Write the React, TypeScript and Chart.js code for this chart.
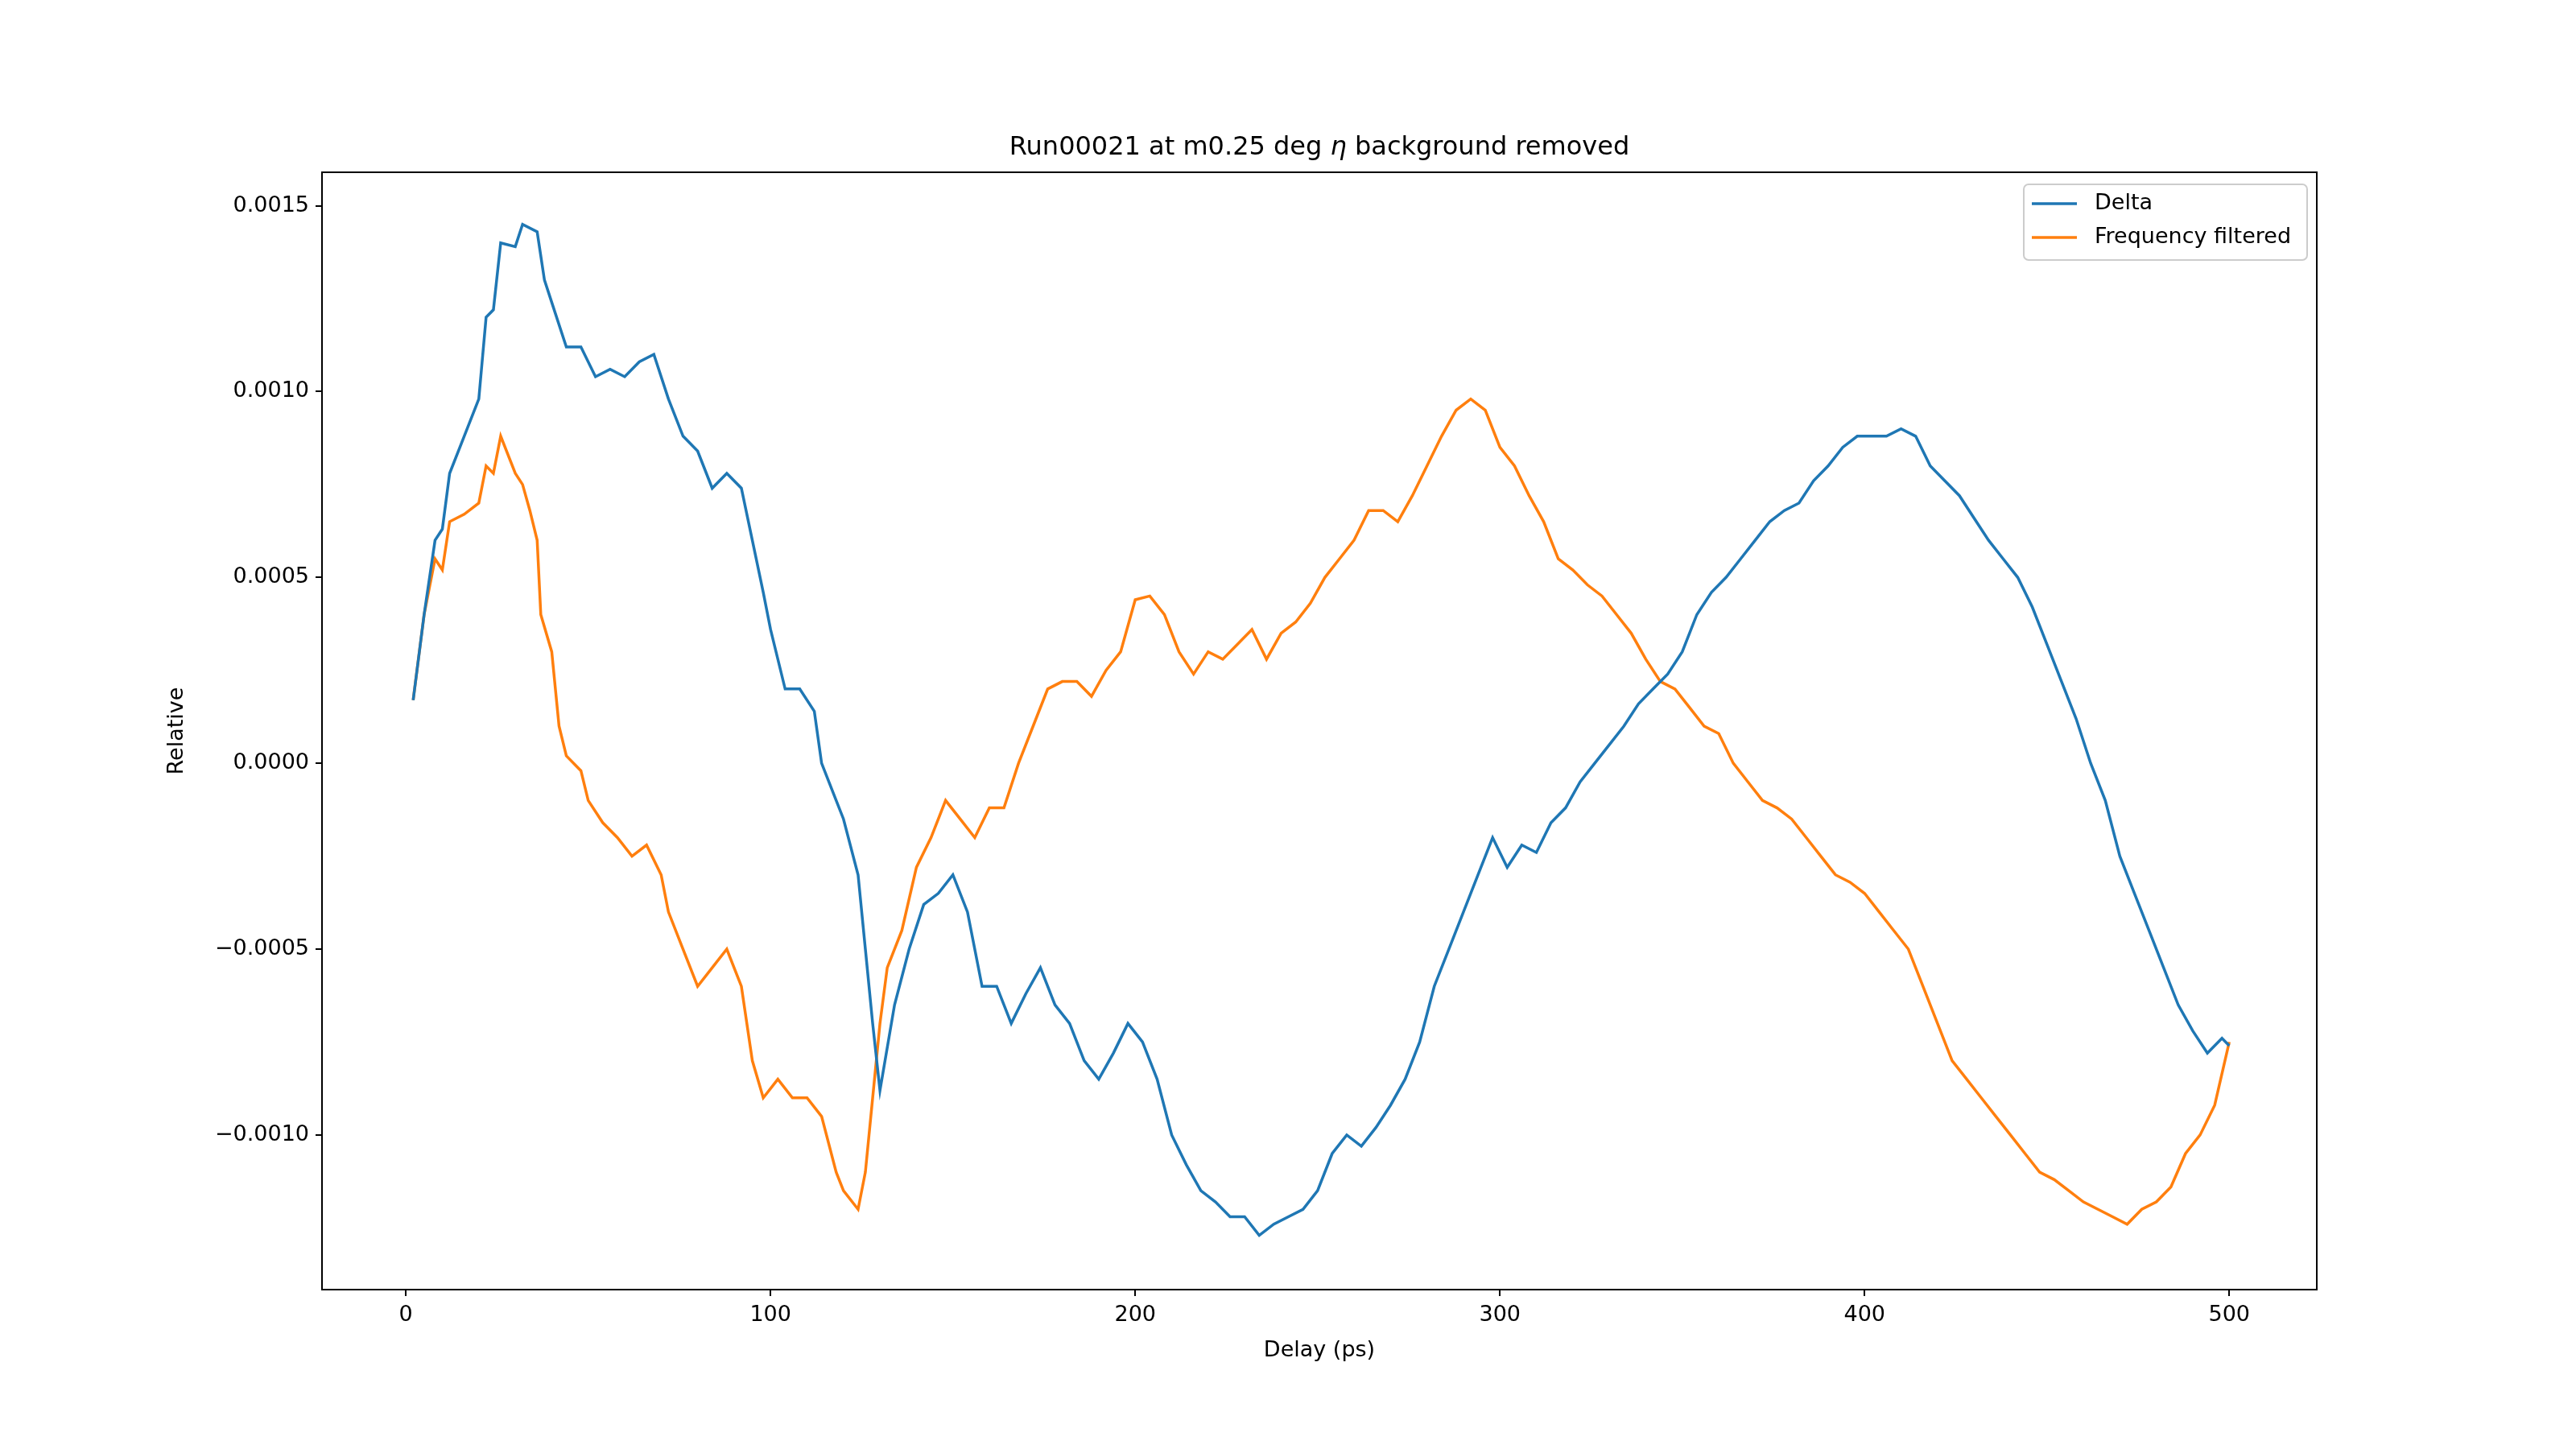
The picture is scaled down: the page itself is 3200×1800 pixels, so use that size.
import { useEffect, useRef } from "react"
import { Chart, registerables } from "chart.js"

Chart.register(...registerables)

const deltaX = [2, 5, 8, 10, 12, 16, 20, 22, 24, 26, 30, 32, 36, 38, 40, 44, 48, 52, 56, 60, 64, 68, 72, 76, 80, 84, 88, 92, 95, 98, 100, 104, 108, 112, 114, 118, 120, 124, 126, 128, 130, 134, 138, 142, 146, 150, 154, 158, 162, 166, 170, 174, 178, 182, 186, 190, 194, 198, 202, 206, 210, 214, 218, 222, 226, 230, 234, 238, 242, 246, 250, 254, 258, 262, 266, 270, 274, 278, 282, 286, 290, 294, 298, 302, 306, 310, 314, 318, 322, 326, 330, 334, 338, 342, 346, 350, 354, 358, 362, 366, 370, 374, 378, 382, 386, 390, 394, 398, 402, 406, 410, 414, 418, 422, 426, 430, 434, 438, 442, 446, 450, 454, 458, 462, 466, 470, 474, 478, 482, 486, 490, 494, 498, 500]
const deltaY = [0.00017, 0.0004, 0.0006, 0.00063, 0.00078, 0.00088, 0.00098, 0.0012, 0.00122, 0.0014, 0.00139, 0.00145, 0.00143, 0.0013, 0.00124, 0.00112, 0.00112, 0.00104, 0.00106, 0.00104, 0.00108, 0.0011, 0.00098, 0.00088, 0.00084, 0.00074, 0.00078, 0.00074, 0.0006, 0.00046, 0.00036, 0.0002, 0.0002, 0.00014, 0.0, -0.0001, -0.00015, -0.0003, -0.0005, -0.0007, -0.00088, -0.00065, -0.0005, -0.00038, -0.00035, -0.0003, -0.0004, -0.0006, -0.0006, -0.0007, -0.00062, -0.00055, -0.00065, -0.0007, -0.0008, -0.00085, -0.00078, -0.0007, -0.00075, -0.00085, -0.001, -0.00108, -0.00115, -0.00118, -0.00122, -0.00122, -0.00127, -0.00124, -0.00122, -0.0012, -0.00115, -0.00105, -0.001, -0.00103, -0.00098, -0.00092, -0.00085, -0.00075, -0.0006, -0.0005, -0.0004, -0.0003, -0.0002, -0.00028, -0.00022, -0.00024, -0.00016, -0.00012, -0.00005, 0.0, 0.00005, 0.0001, 0.00016, 0.0002, 0.00024, 0.0003, 0.0004, 0.00046, 0.0005, 0.00055, 0.0006, 0.00065, 0.00068, 0.0007, 0.00076, 0.0008, 0.00085, 0.00088, 0.00088, 0.00088, 0.0009, 0.00088, 0.0008, 0.00076, 0.00072, 0.00066, 0.0006, 0.00055, 0.0005, 0.00042, 0.00032, 0.00022, 0.00012, 0.0, -0.0001, -0.00025, -0.00035, -0.00045, -0.00055, -0.00065, -0.00072, -0.00078, -0.00074, -0.00076]

const filteredX = [2, 5, 8, 10, 12, 16, 20, 22, 24, 26, 30, 32, 34, 36, 37, 40, 42, 44, 48, 50, 54, 58, 62, 66, 70, 72, 76, 80, 84, 88, 92, 95, 98, 102, 106, 110, 114, 118, 120, 124, 126, 128, 130, 132, 136, 140, 144, 148, 152, 156, 160, 164, 168, 172, 176, 180, 184, 188, 192, 196, 200, 204, 208, 212, 216, 220, 224, 228, 232, 236, 240, 244, 248, 252, 256, 260, 264, 268, 272, 276, 280, 284, 288, 292, 296, 298, 300, 304, 308, 312, 316, 320, 324, 328, 332, 336, 340, 344, 348, 352, 356, 360, 364, 368, 372, 376, 380, 384, 388, 392, 396, 400, 404, 408, 412, 416, 420, 424, 428, 432, 436, 440, 444, 448, 452, 456, 460, 464, 468, 472, 476, 480, 484, 488, 492, 496, 500]
const filteredY = [0.00017, 0.0004, 0.00055, 0.00052, 0.00065, 0.00067, 0.0007, 0.0008, 0.00078, 0.00088, 0.00078, 0.00075, 0.00068, 0.0006, 0.0004, 0.0003, 0.0001, 0.00002, -0.00002, -0.0001, -0.00016, -0.0002, -0.00025, -0.00022, -0.0003, -0.0004, -0.0005, -0.0006, -0.00055, -0.0005, -0.0006, -0.0008, -0.0009, -0.00085, -0.0009, -0.0009, -0.00095, -0.0011, -0.00115, -0.0012, -0.0011, -0.0009, -0.0007, -0.00055, -0.00045, -0.00028, -0.0002, -0.0001, -0.00015, -0.0002, -0.00012, -0.00012, 0.0, 0.0001, 0.0002, 0.00022, 0.00022, 0.00018, 0.00025, 0.0003, 0.00044, 0.00045, 0.0004, 0.0003, 0.00024, 0.0003, 0.00028, 0.00032, 0.00036, 0.00028, 0.00035, 0.00038, 0.00043, 0.0005, 0.00055, 0.0006, 0.00068, 0.00068, 0.00065, 0.00072, 0.0008, 0.00088, 0.00095, 0.00098, 0.00095, 0.0009, 0.00085, 0.0008, 0.00072, 0.00065, 0.00055, 0.00052, 0.00048, 0.00045, 0.0004, 0.00035, 0.00028, 0.00022, 0.0002, 0.00015, 0.0001, 0.00008, 0.0, -0.00005, -0.0001, -0.00012, -0.00015, -0.0002, -0.00025, -0.0003, -0.00032, -0.00035, -0.0004, -0.00045, -0.0005, -0.0006, -0.0007, -0.0008, -0.00085, -0.0009, -0.00095, -0.001, -0.00105, -0.0011, -0.00112, -0.00115, -0.00118, -0.0012, -0.00122, -0.00124, -0.0012, -0.00118, -0.00114, -0.00105, -0.001, -0.00092, -0.00075]

const seriesNames = ["Delta", "Frequency filtered"]
const seriesColors = ["#1f77b4", "#ff7f0e"]
const titleParts = ["Run00021 at m0.25 deg ", "η", " background removed"]
const FONT = "'DejaVu Sans', sans-serif"

// full box, title centred over the plot (η in italics), legend upper right
const framePlugin = {
  id: "frame",
  afterDraw(chart: Chart) {
    const { ctx, chartArea: a } = chart
    ctx.save()
    ctx.strokeStyle = "#000"
    ctx.lineWidth = 2
    ctx.strokeRect(a.left, a.top, a.right - a.left, a.bottom - a.top)

    const fonts = [`32px ${FONT}`, `italic 32px ${FONT}`, `32px ${FONT}`]
    const widths = titleParts.map((t, i) => { ctx.font = fonts[i]; return ctx.measureText(t).width })
    let tx = (a.left + a.right) / 2 - widths.reduce((s, w) => s + w, 0) / 2
    ctx.fillStyle = "#000"
    ctx.textBaseline = "alphabetic"
    titleParts.forEach((t, i) => {
      ctx.font = fonts[i]
      ctx.fillText(t, tx, a.top - 22)
      tx += widths[i]
    })

    const w = 352, h = 94
    const x0 = a.right - w - 12, y0 = a.top + 15
    ctx.fillStyle = "rgba(255,255,255,0.8)"
    ctx.strokeStyle = "#cccccc"
    ctx.lineWidth = 2
    ctx.beginPath()
    ctx.roundRect(x0, y0, w, h, 6)
    ctx.fill()
    ctx.stroke()
    ctx.font = `27px ${FONT}`
    ctx.textBaseline = "middle"
    seriesNames.forEach((name, i) => {
      const y = y0 + 24 + i * 42
      ctx.strokeStyle = seriesColors[i]
      ctx.lineWidth = 3.5
      ctx.beginPath()
      ctx.moveTo(x0 + 10, y)
      ctx.lineTo(x0 + 66, y)
      ctx.stroke()
      ctx.fillStyle = "#000"
      ctx.fillText(name, x0 + 88, y)
    })
    ctx.restore()
  },
}

export default function App() {
  const canvasRef = useRef<HTMLCanvasElement>(null)

  useEffect(() => {
    if (!canvasRef.current) return
    const chart = new Chart(canvasRef.current, {
      type: "line",
      data: {
        datasets: [
          {
            label: seriesNames[0],
            data: deltaX.map((x, i) => ({ x, y: deltaY[i] })),
            borderColor: seriesColors[0],
            borderWidth: 3.5,
            pointRadius: 0,
            tension: 0,
          },
          {
            label: seriesNames[1],
            data: filteredX.map((x, i) => ({ x, y: filteredY[i] })),
            borderColor: seriesColors[1],
            borderWidth: 3.5,
            pointRadius: 0,
            tension: 0,
          },
        ],
      },
      options: {
        responsive: false,
        animation: false,
        layout: { padding: { left: 200, right: 322, top: 214, bottom: 102 } },
        plugins: {
          legend: { display: false },
          tooltip: { enabled: false },
          title: { display: false },
        },
        scales: {
          x: {
            type: "linear",
            min: -23,
            max: 524,
            afterFit: (s: any) => { s.height = 96 },
            ticks: {
              stepSize: 100,
              includeBounds: false,
              color: "#000",
              font: { family: FONT, size: 27 },
              padding: 8,
              maxRotation: 0,
            },
            grid: { drawOnChartArea: false, tickLength: 8, color: "#000", lineWidth: 2 },
            border: { color: "#000", width: 2 },
            title: {
              display: true,
              text: "Delay (ps)",
              color: "#000",
              font: { family: FONT, size: 27 },
              padding: { top: 0 },
            },
          },
          y: {
            type: "linear",
            min: -0.001416,
            max: 0.00159,
            afterFit: (s: any) => { s.width = 200 },
            ticks: {
              stepSize: 0.0005,
              includeBounds: false,
              color: "#000",
              font: { family: FONT, size: 27 },
              padding: 8,
              callback: (v: any) => {
                const n = Number(v)
                const s = Math.abs(n).toFixed(4)
                return Math.abs(n) < 1e-9 ? "0.0000" : n < 0 ? "−" + s : s
              },
            },
            grid: { drawOnChartArea: false, tickLength: 8, color: "#000", lineWidth: 2 },
            border: { color: "#000", width: 2 },
            title: {
              display: true,
              text: "Relative",
              color: "#000",
              font: { family: FONT, size: 27 },
              padding: { bottom: 0 },
            },
          },
        },
      },
      plugins: [framePlugin],
    })
    return () => chart.destroy()
  }, [])

  return (
    <div style={{ position: "fixed", left: 0, top: 0, width: 3200, height: 1800, background: "#fff" }}>
      <canvas ref={canvasRef} width={3200} height={1800} style={{ width: 3200, height: 1800 }} />
    </div>
  )
}
